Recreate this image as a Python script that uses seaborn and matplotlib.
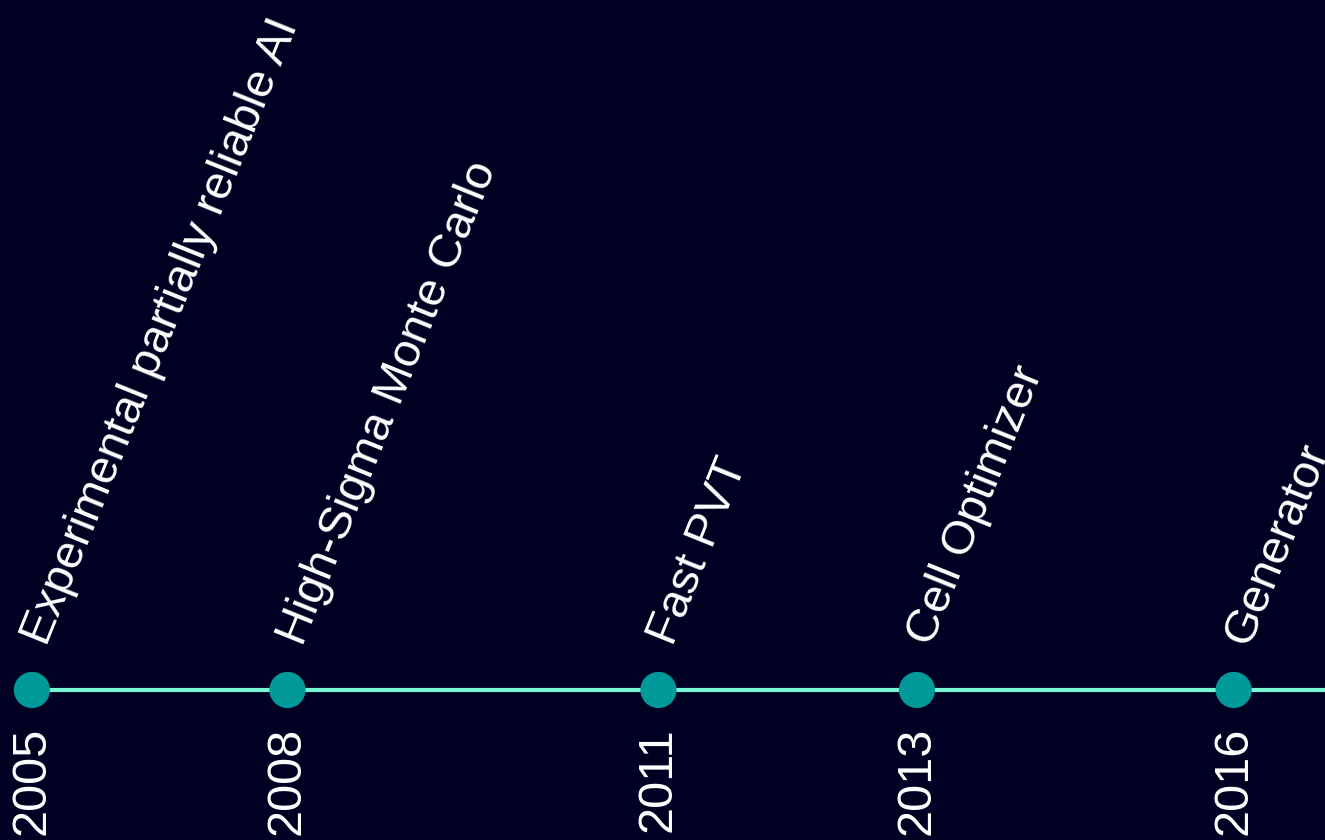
import matplotlib
matplotlib.use("Agg")
import matplotlib.pyplot as plt
import seaborn as sns
import pandas as pd

# ---- data ----
dates = ["2005-10-15", "2008-02-10", "2011-06-25", "2013-10-30", "2016-09-15"]
years = ["2005", "2008", "2011", "2013", "2016"]
events = [
    "Experimental partially reliable AI",
    "High-Sigma Monte Carlo",
    "Fast PVT",
    "Cell Optimizer",
    "Generator",
]
x_start = "2005-07-01"
x_end = "2017-07-15"

BG = "#000022"
DOT = "#009999"
LINE = "#78f5d5"

sns.set_theme(style="white")
plt.rcParams["font.family"] = ["Liberation Sans", "DejaVu Sans"]

df = pd.DataFrame({"date": pd.to_datetime(dates), "y": [0] * len(dates),
                   "year": years, "event": events})

fig = plt.figure(figsize=(13.25, 8.4), dpi=100, facecolor=BG)
ax = fig.add_axes([0, 0, 1, 1])
ax.set_facecolor(BG)

xmin = pd.to_datetime(x_start)
xmax = pd.to_datetime(x_end)

ax.hlines(0, df["date"].iloc[0], xmax, color=LINE, lw=3, zorder=1)
sns.scatterplot(data=df, x="date", y="y", s=680, color=DOT, edgecolor="none",
                ax=ax, zorder=3, legend=False)

for _, r in df.iterrows():
    ax.annotate(r["event"], (r["date"], 0), xytext=(15, 43),
                textcoords="offset pixels", rotation=68,
                rotation_mode="anchor", ha="left", va="baseline",
                color="white", fontsize=34)
    ax.annotate(r["year"], (r["date"], 0), xytext=(0, -37),
                textcoords="offset pixels", rotation=90,
                ha="center", va="top", color="white", fontsize=35)

ax.set_xlim(xmin, xmax)
ax.set_ylim(-0.1786, 0.8214)
ax.set_axis_off()

fig.savefig("out.png", dpi=100, facecolor=BG)
